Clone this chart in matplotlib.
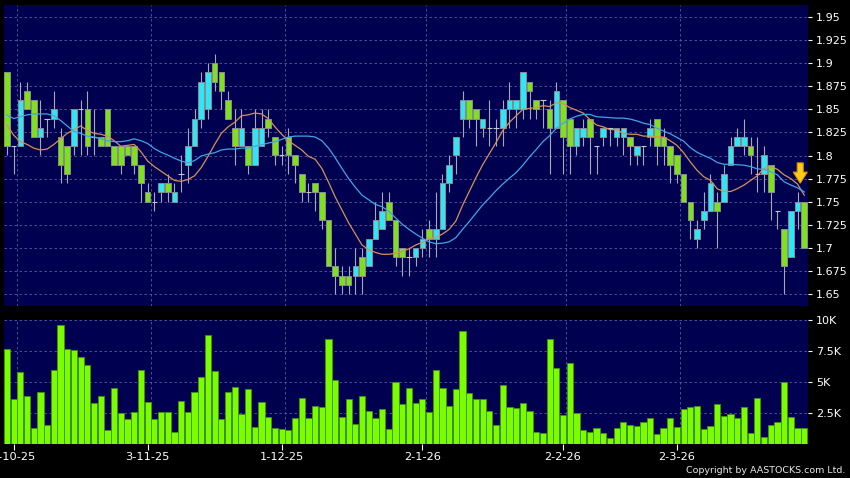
import numpy as np
import pandas as pd
import matplotlib
matplotlib.use("Agg")
import matplotlib.pyplot as plt
from matplotlib.patches import FancyArrow

# Daily bars 30-9-25 .. 27-3-26 (HKD)
opens = [1.89, 1.81, 1.81, 1.87, 1.86, 1.82, 1.84, 1.84, 1.82, 1.81,
         1.81, 1.85, 1.85, 1.82, 1.82, 1.85, 1.81, 1.81, 1.81, 1.81,
         1.79, 1.76, 1.75, 1.76, 1.77, 1.75, 1.78, 1.79, 1.81, 1.84,
         1.85, 1.90, 1.89, 1.86, 1.83, 1.81, 1.81, 1.79, 1.81, 1.84,
         1.82, 1.80, 1.82, 1.80, 1.78, 1.76, 1.77, 1.76, 1.73, 1.68,
         1.67, 1.67, 1.67, 1.69, 1.68, 1.71, 1.72, 1.75, 1.73, 1.70,
         1.69, 1.69, 1.70, 1.72, 1.71, 1.72, 1.77, 1.80, 1.84, 1.86,
         1.85, 1.83, 1.83, 1.83, 1.83, 1.85, 1.85, 1.85, 1.88, 1.86,
         1.86, 1.85, 1.83, 1.86, 1.84, 1.81, 1.82, 1.84, 1.81, 1.82,
         1.83, 1.82, 1.82, 1.82, 1.80, 1.81, 1.82, 1.84, 1.82, 1.81,
         1.80, 1.78, 1.75, 1.71, 1.73, 1.74, 1.75, 1.75, 1.79, 1.81,
         1.81, 1.81, 1.78, 1.78, 1.79, 1.74, 1.72, 1.69, 1.74, 1.75]
highs = [1.89, 1.81, 1.88, 1.88, 1.86, 1.86, 1.84, 1.87, 1.83, 1.81,
         1.85, 1.86, 1.87, 1.85, 1.82, 1.85, 1.81, 1.81, 1.81, 1.81,
         1.79, 1.77, 1.76, 1.77, 1.78, 1.77, 1.80, 1.83, 1.85, 1.89,
         1.90, 1.91, 1.89, 1.87, 1.85, 1.85, 1.81, 1.85, 1.85, 1.85,
         1.82, 1.81, 1.83, 1.80, 1.78, 1.77, 1.77, 1.76, 1.73, 1.70,
         1.68, 1.68, 1.70, 1.70, 1.71, 1.75, 1.76, 1.76, 1.73, 1.70,
         1.70, 1.70, 1.72, 1.73, 1.76, 1.78, 1.80, 1.82, 1.87, 1.86,
         1.85, 1.84, 1.86, 1.84, 1.86, 1.88, 1.86, 1.89, 1.88, 1.86,
         1.86, 1.86, 1.88, 1.86, 1.84, 1.83, 1.84, 1.84, 1.81, 1.83,
         1.83, 1.83, 1.83, 1.82, 1.81, 1.81, 1.84, 1.84, 1.83, 1.81,
         1.80, 1.78, 1.75, 1.73, 1.76, 1.78, 1.76, 1.79, 1.82, 1.83,
         1.84, 1.82, 1.82, 1.81, 1.79, 1.74, 1.72, 1.74, 1.76, 1.75]
lows = [1.80, 1.78, 1.81, 1.85, 1.82, 1.80, 1.82, 1.83, 1.77, 1.77,
        1.80, 1.80, 1.80, 1.80, 1.81, 1.81, 1.79, 1.78, 1.80, 1.78,
        1.75, 1.75, 1.74, 1.75, 1.75, 1.75, 1.76, 1.77, 1.81, 1.83,
        1.84, 1.87, 1.85, 1.84, 1.79, 1.81, 1.78, 1.79, 1.81, 1.82,
        1.79, 1.79, 1.78, 1.77, 1.75, 1.75, 1.74, 1.72, 1.68, 1.65,
        1.65, 1.65, 1.65, 1.65, 1.68, 1.71, 1.72, 1.73, 1.68, 1.67,
        1.67, 1.68, 1.69, 1.69, 1.69, 1.72, 1.76, 1.78, 1.82, 1.83,
        1.81, 1.82, 1.81, 1.81, 1.81, 1.83, 1.83, 1.84, 1.84, 1.84,
        1.83, 1.78, 1.83, 1.78, 1.78, 1.80, 1.81, 1.78, 1.78, 1.81,
        1.81, 1.81, 1.80, 1.79, 1.79, 1.79, 1.81, 1.79, 1.79, 1.77,
        1.77, 1.75, 1.71, 1.70, 1.72, 1.74, 1.70, 1.75, 1.79, 1.81,
        1.80, 1.78, 1.76, 1.76, 1.73, 1.72, 1.65, 1.69, 1.72, 1.70]
closes = [1.81, 1.81, 1.86, 1.85, 1.82, 1.83, 1.84, 1.85, 1.79, 1.78,
          1.85, 1.85, 1.81, 1.82, 1.81, 1.81, 1.79, 1.79, 1.80, 1.79,
          1.77, 1.75, 1.75, 1.77, 1.76, 1.76, 1.78, 1.81, 1.84, 1.88,
          1.89, 1.88, 1.87, 1.84, 1.81, 1.83, 1.79, 1.83, 1.83, 1.83,
          1.80, 1.80, 1.80, 1.79, 1.76, 1.76, 1.76, 1.73, 1.68, 1.67,
          1.66, 1.66, 1.68, 1.67, 1.71, 1.73, 1.74, 1.73, 1.69, 1.69,
          1.69, 1.70, 1.71, 1.71, 1.72, 1.77, 1.79, 1.82, 1.86, 1.84,
          1.84, 1.84, 1.83, 1.83, 1.85, 1.86, 1.86, 1.89, 1.87, 1.85,
          1.86, 1.83, 1.87, 1.82, 1.81, 1.83, 1.83, 1.82, 1.81, 1.83,
          1.83, 1.83, 1.83, 1.81, 1.81, 1.81, 1.83, 1.81, 1.81, 1.79,
          1.78, 1.75, 1.73, 1.72, 1.74, 1.77, 1.74, 1.78, 1.81, 1.82,
          1.82, 1.80, 1.78, 1.80, 1.76, 1.74, 1.68, 1.74, 1.75, 1.70]
# volume in thousands of shares
volume_k = [7.7, 3.6, 5.8, 3.9, 1.3, 4.2, 1.5, 6.0, 9.6, 7.7,
            7.6, 7.0, 6.4, 3.3, 3.9, 1.1, 4.5, 2.5, 2.0, 2.6,
            6.0, 3.4, 2.0, 2.6, 2.6, 0.95, 3.5, 2.6, 4.2, 5.4,
            8.8, 5.9, 2.0, 4.2, 4.6, 2.4, 4.4, 1.4, 3.4, 2.2,
            1.3, 1.2, 1.1, 2.1, 3.7, 2.1, 3.1, 3.0, 8.5, 5.2,
            2.2, 3.6, 1.6, 3.9, 2.7, 2.1, 2.8, 1.2, 5.0, 3.2,
            4.5, 3.3, 3.6, 2.6, 6.0, 4.5, 3.1, 4.4, 9.1, 4.1,
            3.65, 3.6, 2.7, 1.5, 4.8, 3.0, 2.9, 3.3, 2.7, 1.0,
            0.9, 8.5, 6.1, 2.35, 6.5, 2.5, 1.1, 1.0, 1.3, 0.85,
            0.45, 1.3, 1.8, 1.5, 1.45, 1.75, 2.1, 0.8, 1.3, 2.1,
            1.4, 2.8, 3.0, 3.05, 1.2, 1.45, 3.2, 2.3, 2.4, 2.1,
            3.0, 0.9, 3.7, 0.6, 1.55, 1.8, 5.0, 2.2, 1.3, 1.3]

# moving averages on the first bars (history before the window)
ma10_head = [1.833, 1.822, 1.815, 1.812, 1.808, 1.806, 1.807, 1.812, 1.818]
ma20_head = [1.844, 1.840, 1.842, 1.844, 1.845, 1.845, 1.845, 1.843, 1.838, 1.832,
             1.826, 1.824, 1.821, 1.820, 1.818, 1.816, 1.815, 1.815, 1.816]

date_ticks = [1, 21, 41, 62, 83, 100]
date_labels = ["2-10-25", "3-11-25", "1-12-25", "2-1-26", "2-2-26", "2-3-26"]

price_ticks = np.arange(1.65, 1.951, 0.025)
vol_ticks = [2.5, 5.0, 7.5, 10.0]
vol_labels = ["2.5K", "5K", "7.5K", "10K"]

# Colours
BG = "#000050"
GRID = "#5a5a9e"
UP = "#2ee6f5"
DOWN = "#7fe01e"
WICK = "#a8a8b0"
MA10_C = "#d98f5a"
MA20_C = "#3fa6e6"
VOL_C = "#7cfc00"

o = np.array(opens); h = np.array(highs); l = np.array(lows); c = np.array(closes)
n = len(c)
x = np.arange(n)

close_s = pd.Series(c)
ma10 = close_s.rolling(10).mean().to_numpy()
ma10[:9] = ma10_head
ma20 = close_s.rolling(20).mean().to_numpy()
ma20[:19] = ma20_head

fig = plt.figure(figsize=(8.5, 4.78), dpi=100, facecolor="black")
ax = fig.add_axes([3.6 / 850, 172 / 478, 804 / 850, 301 / 478])
axv = fig.add_axes([3.6 / 850, 34 / 478, 804 / 850, 124.5 / 478], sharex=ax)

for a in (ax, axv):
    a.set_facecolor(BG)
    for s in a.spines.values():
        s.set_visible(False)
    a.yaxis.tick_right()
    for t in date_ticks:
        a.axvline(t + 0.5, color=GRID, lw=0.6, ls=(0, (3, 3)), zorder=0)
    a.grid(True, axis="y", color=GRID, lw=0.6, ls=(0, (3, 3)), zorder=0)
    a.set_axisbelow(True)

# candles
body_lo = np.minimum(o, c)
body_h = np.abs(c - o)
doji = body_h < 1e-6
cols = np.where(c > o, UP, DOWN)
ax.vlines(x, l, h, color=WICK, lw=0.8, zorder=2)
ax.bar(x[~doji], body_h[~doji], bottom=body_lo[~doji], width=0.84,
       color=cols[~doji], edgecolor="#8c8c8c", linewidth=0.7, zorder=3)
ax.hlines(c[doji], x[doji] - 0.42, x[doji] + 0.42, color="#c8c8c8", lw=0.8, zorder=3)

ax.plot(x, ma10, color=MA10_C, lw=0.9, zorder=4)
ax.plot(x, ma20, color=MA20_C, lw=0.9, zorder=4)

# signal arrow over the last bars
ax.add_patch(FancyArrow(n - 1.6, h[-2] + 0.032, 0, -0.022, width=0.9, head_width=2.1,
                        head_length=0.012, length_includes_head=True,
                        fc="#ffcc1a", ec="#e09000", lw=0.8, zorder=6))

ax.set_xlim(-0.5, n - 0.5)
ax.set_ylim(1.637, 1.963)
ax.set_yticks(price_ticks)
ax.set_yticklabels([f"{round(v, 3):g}" for v in price_ticks])
ax.tick_params(axis="y", colors="white", length=3, width=0.8, pad=3, labelsize=8)
ax.tick_params(axis="x", bottom=False, labelbottom=False)

# volume
axv.bar(x, volume_k, width=0.92, color=VOL_C, edgecolor="#3f9410", linewidth=0.6, zorder=3)
axv.set_ylim(0, 10.05)
axv.set_yticks(vol_ticks)
axv.set_yticklabels(vol_labels)
axv.set_xticks(date_ticks)
axv.set_xticklabels(date_labels)
axv.tick_params(axis="y", colors="white", length=3, width=0.8, pad=3, labelsize=8)
axv.tick_params(axis="x", colors="white", length=4, width=0.8, pad=2, labelsize=8.2)

fig.text(845 / 850, 5 / 478, "Copyright by AASTOCKS.com Ltd.", ha="right", va="baseline",
         color="#e8e8e8", fontsize=6.8)

fig.savefig("out.png", dpi=100, facecolor="black")
